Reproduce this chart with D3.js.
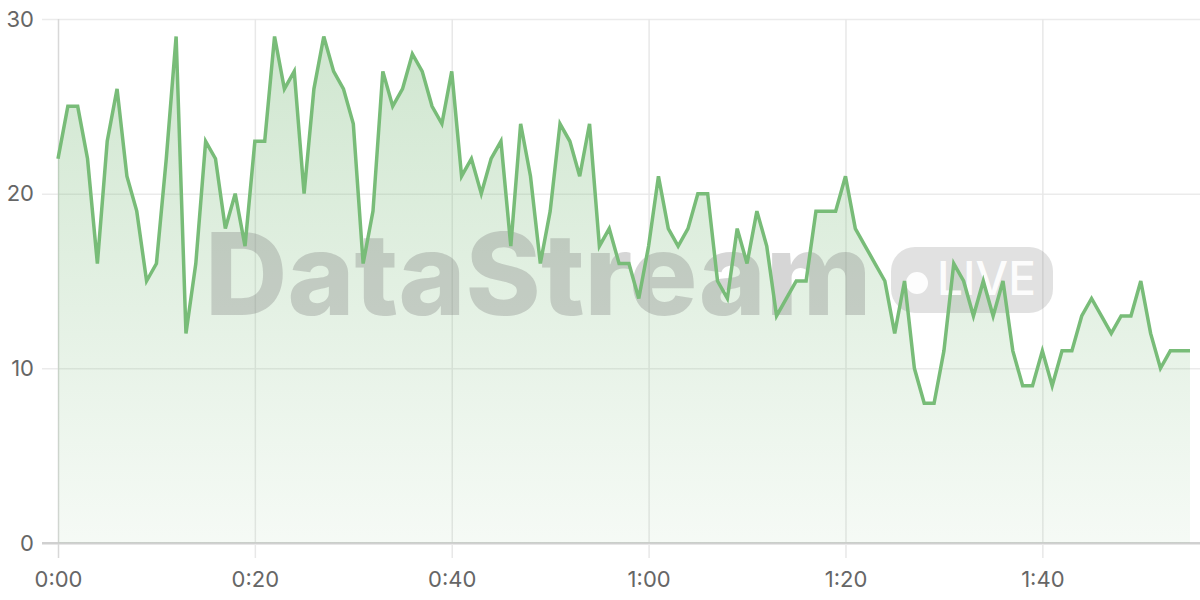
<!DOCTYPE html>
<html>
<head>
	<meta charset="utf-8">
	<title>DataStream live</title>
	<script src="https://d3js.org/d3.v7.min.js"></script>
	<style type="text/css">
		body {
			margin: 0;
			background: #fff;
			overflow: hidden;
		}
		.tick text {
			font-family: Inter, 'Liberation Sans', sans-serif;
			font-size: 22px;
			fill: #666;
		}
	</style>
</head>
<body>
<div id="svgDiv"></div>
<script type="text/javascript">

var width = 1200,
	height = 600;

// one reading per second, 0:00 .. 1:55
var seconds = d3.range(0, 116);
var values = [22, 25, 25, 22, 16, 23, 26, 21, 19, 15,
	16, 22, 29, 12, 16, 23, 22, 18, 20, 17,
	23, 23, 29, 26, 27, 20, 26, 29, 27, 26,
	24, 16, 19, 27, 25, 26, 28, 27, 25, 24,
	27, 21, 22, 20, 22, 23, 17, 24, 21, 16,
	19, 24, 23, 21, 24, 17, 18, 16, 16, 14,
	17, 21, 18, 17, 18, 20, 20, 15, 14, 18,
	16, 19, 17, 13, 14, 15, 15, 19, 19, 19,
	21, 18, 17, 16, 15, 12, 15, 10, 8, 8,
	11, 16, 15, 13, 15, 13, 15, 11, 9, 9,
	11, 9, 11, 11, 13, 14, 13, 12, 13, 13,
	15, 12, 10, 11, 11, 11];
var xTicks = [0, 20, 40, 60, 80, 100];
var yTicks = [0, 10, 20, 30];

var data = seconds.map(function (s, i) { return { t: s, v: values[i] }; });

var margin = { top: 19, right: 10, bottom: 57, left: 58 };

var x = d3.scaleLinear()
	.domain([0, 115])
	.range([margin.left, width - margin.right]);

var y = d3.scaleLinear()
	.domain([0, 30])
	.range([height - margin.bottom, margin.top]);

var svg = d3.select("#svgDiv").append("svg")
	.attr("width", width)
	.attr("height", height);

// gradient under the line
var grad = svg.append("defs").append("linearGradient")
	.attr("id", "fillGrad")
	.attr("gradientUnits", "userSpaceOnUse")
	.attr("x1", 0).attr("x2", 0)
	.attr("y1", y(30)).attr("y2", y(0));
grad.append("stop").attr("offset", "0%").attr("stop-color", "#78b978").attr("stop-opacity", 0.36);
grad.append("stop").attr("offset", "100%").attr("stop-color", "#78b978").attr("stop-opacity", 0.07);

function fmtTime(s) {
	return Math.floor(s / 60) + ":" + d3.format("02d")(s % 60);
}

// y axis + horizontal grid
var yAxis = svg.append("g")
	.attr("transform", "translate(" + margin.left + ",0)")
	.call(d3.axisLeft(y).tickValues(yTicks).tickSize(0).tickPadding(24));
yAxis.select(".domain").remove();
yAxis.selectAll(".tick line")
	.attr("x1", -16)
	.attr("x2", width - margin.left)
	.attr("stroke", function (d) { return d === 0 ? "#d0d0d0" : "#ebebeb"; })
	.attr("stroke-width", function (d) { return d === 0 ? 2 : 1.5; });

// x axis + vertical grid
var xAxis = svg.append("g")
	.attr("transform", "translate(0," + y(0) + ")")
	.call(d3.axisBottom(x).tickValues(xTicks).tickFormat(fmtTime).tickSize(0).tickPadding(28));
xAxis.select(".domain").remove();
xAxis.selectAll(".tick line")
	.attr("y1", y(30) - y(0))
	.attr("y2", 15)
	.attr("stroke", function (d) { return d === 0 ? "#d8d8d8" : "#e8e8e8"; })
	.attr("stroke-width", 1.5);

// bottom line on top of vertical grid
svg.append("line")
	.attr("x1", margin.left - 16).attr("x2", width)
	.attr("y1", y(0)).attr("y2", y(0))
	.attr("stroke", "#d0d0d0")
	.attr("stroke-width", 2);

var area = d3.area()
	.x(function (d) { return x(d.t); })
	.y0(y(0))
	.y1(function (d) { return y(d.v); });

var line = d3.line()
	.x(function (d) { return x(d.t); })
	.y(function (d) { return y(d.v); });

svg.append("path")
	.datum(data)
	.attr("fill", "url(#fillGrad)")
	.attr("d", area);

// watermark
var wm = svg.append("g").attr("pointer-events", "none");
wm.append("text")
	.attr("x", 205)
	.attr("y", 315)
	.attr("font-family", "Inter, sans-serif")
	.attr("font-weight", 800)
	.attr("font-size", 114)
	.attr("fill", "#777")
	.attr("fill-opacity", 0.3)
	.text("DataStream");
wm.append("rect")
	.attr("x", 891).attr("y", 247)
	.attr("width", 162).attr("height", 66)
	.attr("rx", 24)
	.attr("fill", "#777")
	.attr("fill-opacity", 0.22);
wm.append("circle")
	.attr("cx", 917).attr("cy", 283)
	.attr("r", 11)
	.attr("fill", "#fff")
	.attr("fill-opacity", 0.92);
wm.append("text")
	.attr("x", 937)
	.attr("y", 295)
	.attr("font-family", "Inter, sans-serif")
	.attr("font-weight", 500)
	.attr("font-size", 46)
	.attr("fill", "#fff")
	.attr("fill-opacity", 0.92)
	.text("LIVE");

svg.append("path")
	.datum(data)
	.attr("fill", "none")
	.attr("stroke", "#78bc78")
	.attr("stroke-width", 3.5)
	.attr("stroke-linejoin", "miter")
	.attr("d", line);

</script>
</body>
</html>
